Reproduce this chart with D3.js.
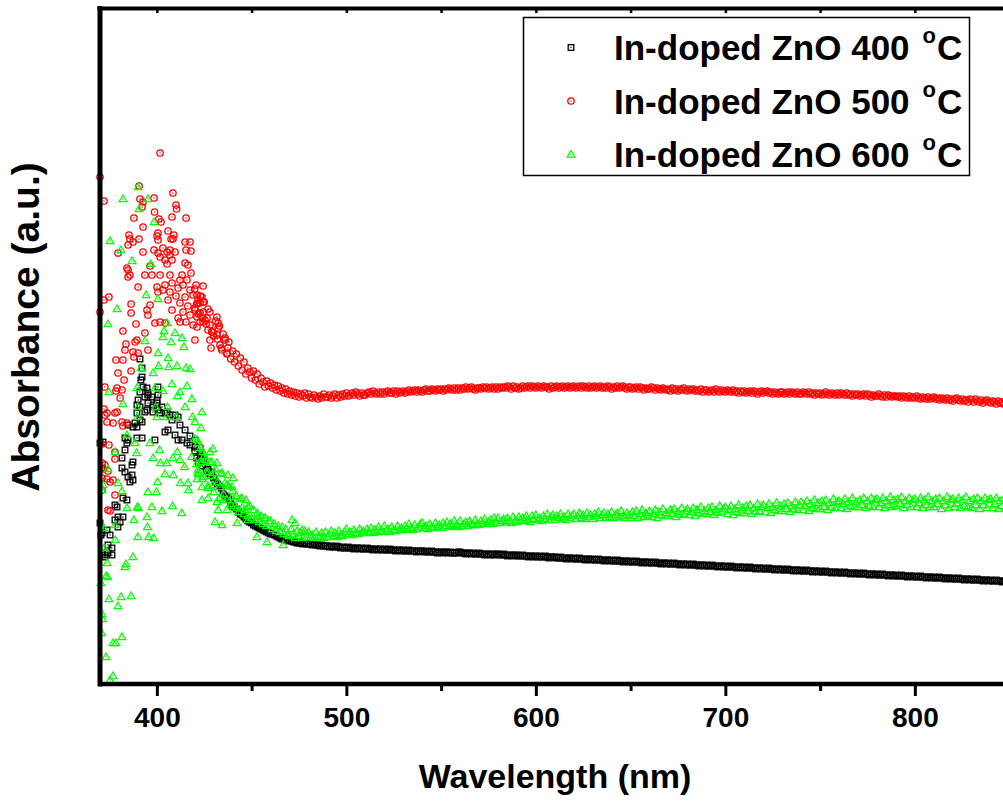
<!DOCTYPE html>
<html><head><meta charset="utf-8">
<script src="https://cdn.jsdelivr.net/npm/d3@7"></script>
<style>html,body{margin:0;padding:0;background:#fff;overflow:hidden}svg{display:block}</style>
</head><body><svg id="chart" width="1003" height="802"></svg>
<script>
// ---------------- DATA ----------------
// Smooth part of each spectrum, one reading per nm from 420 to 850 nm (rows of 10 nm)
const bandWavelengths = d3.range(420, 851, 1);

const band400 = [
2.33,2.26,2.22,2.28,2.18,2.24,2.14,2.15,2.10,2.12,
2.06,2.02,2.00,1.98,1.96,1.90,1.88,1.87,1.85,1.80,
1.78,1.77,1.75,1.72,1.70,1.69,1.67,1.65,1.63,1.62,
1.61,1.59,1.58,1.57,1.56,1.55,1.54,1.53,1.52,1.51,
1.50,1.50,1.49,1.48,1.47,1.46,1.45,1.45,1.44,1.44,
1.43,1.43,1.42,1.42,1.41,1.41,1.41,1.40,1.41,1.40,
1.40,1.40,1.39,1.40,1.39,1.39,1.38,1.39,1.38,1.38,
1.38,1.37,1.38,1.37,1.37,1.38,1.37,1.36,1.37,1.36,
1.36,1.37,1.36,1.36,1.35,1.36,1.36,1.35,1.36,1.35,
1.35,1.36,1.35,1.35,1.34,1.35,1.35,1.34,1.35,1.34,
1.35,1.34,1.34,1.35,1.34,1.34,1.33,1.34,1.34,1.33,
1.34,1.33,1.33,1.34,1.33,1.33,1.33,1.32,1.33,1.33,
1.33,1.32,1.33,1.32,1.32,1.33,1.32,1.32,1.31,1.32,
1.32,1.31,1.32,1.32,1.31,1.32,1.31,1.31,1.31,1.32,
1.32,1.31,1.31,1.30,1.31,1.31,1.30,1.31,1.30,1.30,
1.31,1.30,1.30,1.29,1.30,1.30,1.29,1.30,1.29,1.30,
1.30,1.29,1.29,1.30,1.29,1.28,1.29,1.29,1.28,1.29,
1.29,1.28,1.28,1.29,1.28,1.28,1.27,1.28,1.28,1.27,
1.28,1.27,1.28,1.27,1.27,1.28,1.27,1.26,1.27,1.27,
1.27,1.26,1.26,1.27,1.26,1.26,1.25,1.26,1.26,1.25,
1.26,1.25,1.25,1.26,1.25,1.25,1.24,1.25,1.25,1.24,
1.25,1.24,1.24,1.25,1.24,1.24,1.23,1.24,1.24,1.23,
1.24,1.23,1.23,1.24,1.23,1.23,1.22,1.23,1.23,1.22,
1.23,1.22,1.22,1.23,1.22,1.22,1.21,1.22,1.22,1.21,
1.22,1.21,1.21,1.22,1.21,1.21,1.20,1.21,1.21,1.20,
1.21,1.20,1.20,1.21,1.20,1.20,1.19,1.20,1.20,1.19,
1.20,1.19,1.19,1.20,1.19,1.19,1.18,1.19,1.19,1.18,
1.19,1.18,1.18,1.19,1.18,1.18,1.17,1.18,1.18,1.17,
1.18,1.17,1.17,1.18,1.17,1.17,1.16,1.17,1.17,1.16,
1.17,1.16,1.16,1.17,1.16,1.16,1.15,1.16,1.16,1.15,
1.16,1.15,1.15,1.16,1.15,1.15,1.14,1.15,1.15,1.14,
1.15,1.14,1.14,1.15,1.14,1.14,1.13,1.14,1.14,1.13,
1.14,1.13,1.13,1.14,1.13,1.13,1.12,1.13,1.13,1.12,
1.13,1.12,1.12,1.13,1.12,1.12,1.11,1.12,1.12,1.11,
1.12,1.11,1.11,1.12,1.11,1.11,1.10,1.11,1.11,1.10,
1.11,1.10,1.10,1.11,1.10,1.10,1.09,1.10,1.10,1.09,
1.10,1.09,1.09,1.10,1.09,1.09,1.08,1.09,1.09,1.08,
1.09,1.08,1.08,1.09,1.08,1.08,1.07,1.08,1.08,1.07,
1.08,1.07,1.07,1.08,1.07,1.07,1.06,1.07,1.07,1.06,
1.07,1.06,1.06,1.07,1.06,1.06,1.05,1.06,1.06,1.05,
1.06,1.05,1.05,1.06,1.05,1.05,1.04,1.05,1.05,1.04,
1.05,1.04,1.04,1.05,1.04,1.04,1.03,1.04,1.04,1.03,
1.04,1.03,1.03,1.04,1.03,1.03,1.02,1.03,1.03,1.02,
1.02
];

const band500 = [
3.95,3.80,3.70,3.88,3.66,3.82,3.60,3.75,3.72,3.52,
3.48,3.63,3.45,3.58,3.36,3.50,3.46,3.30,3.42,3.25,
3.33,3.22,3.30,3.18,3.26,3.14,3.22,3.10,3.16,3.12,
3.06,3.13,3.04,3.10,3.00,3.06,3.02,2.97,3.03,2.98,
3.01,2.96,2.99,2.94,2.98,2.93,2.96,2.91,2.95,2.90,
2.93,2.89,2.92,2.88,2.91,2.87,2.90,2.88,2.91,2.86,
2.90,2.87,2.86,2.89,2.87,2.85,2.88,2.86,2.90,2.87,
2.87,2.89,2.86,2.88,2.90,2.86,2.89,2.87,2.90,2.88,
2.91,2.88,2.89,2.91,2.89,2.92,2.90,2.88,2.91,2.89,
2.89,2.91,2.92,2.90,2.93,2.91,2.90,2.92,2.90,2.92,
2.90,2.92,2.93,2.91,2.91,2.93,2.90,2.93,2.91,2.92,
2.93,2.91,2.92,2.94,2.92,2.93,2.94,2.92,2.94,2.93,
2.92,2.94,2.95,2.93,2.93,2.95,2.94,2.93,2.95,2.94,
2.95,2.93,2.95,2.94,2.96,2.95,2.94,2.96,2.94,2.96,
2.94,2.96,2.95,2.97,2.95,2.96,2.97,2.95,2.94,2.96,
2.96,2.95,2.97,2.96,2.97,2.95,2.96,2.97,2.95,2.97,
2.95,2.97,2.96,2.97,2.96,2.98,2.97,2.95,2.98,2.96,
2.97,2.95,2.96,2.98,2.96,2.97,2.98,2.96,2.98,2.97,
2.96,2.98,2.97,2.96,2.98,2.97,2.97,2.95,2.98,2.96,
2.97,2.98,2.96,2.97,2.98,2.96,2.97,2.98,2.96,2.97,
2.98,2.96,2.97,2.98,2.96,2.98,2.97,2.96,2.98,2.96,
2.97,2.98,2.96,2.97,2.98,2.96,2.97,2.96,2.98,2.97,
2.95,2.97,2.96,2.98,2.96,2.97,2.98,2.96,2.95,2.97,
2.97,2.95,2.96,2.97,2.95,2.97,2.96,2.94,2.96,2.95,
2.95,2.97,2.96,2.94,2.96,2.95,2.94,2.96,2.95,2.94,
2.95,2.93,2.96,2.94,2.95,2.93,2.95,2.94,2.96,2.94,
2.93,2.95,2.94,2.95,2.93,2.94,2.93,2.95,2.92,2.94,
2.94,2.92,2.93,2.94,2.92,2.95,2.93,2.92,2.94,2.93,
2.92,2.94,2.93,2.92,2.94,2.92,2.93,2.91,2.93,2.92,
2.93,2.91,2.92,2.93,2.91,2.93,2.92,2.90,2.92,2.93,
2.91,2.92,2.93,2.91,2.92,2.90,2.92,2.91,2.90,2.92,
2.92,2.90,2.91,2.92,2.90,2.92,2.91,2.90,2.92,2.90,
2.90,2.92,2.91,2.90,2.92,2.90,2.91,2.89,2.91,2.90,
2.91,2.89,2.90,2.92,2.90,2.89,2.91,2.90,2.89,2.91,
2.89,2.91,2.90,2.89,2.91,2.89,2.90,2.88,2.90,2.89,
2.90,2.88,2.89,2.90,2.88,2.90,2.89,2.87,2.89,2.88,
2.88,2.90,2.88,2.87,2.89,2.87,2.89,2.88,2.87,2.88,
2.88,2.87,2.88,2.86,2.88,2.87,2.86,2.88,2.86,2.87,
2.86,2.88,2.86,2.85,2.87,2.86,2.85,2.87,2.85,2.86,
2.87,2.85,2.86,2.84,2.86,2.85,2.84,2.86,2.84,2.85,
2.83,2.85,2.86,2.84,2.83,2.85,2.83,2.84,2.82,2.85,
2.84,2.82,2.85,2.83,2.82,2.84,2.81,2.83,2.84,2.82,
2.81,2.83,2.82,2.80,2.83,2.81,2.82,2.80,2.83,2.81,
2.82
];

const band600 = [
2.45,2.20,2.10,2.36,2.05,2.28,2.12,1.98,2.22,2.08,
1.92,2.15,2.02,1.86,2.10,1.90,2.01,1.84,1.98,1.80,
1.93,1.78,1.88,1.72,1.85,1.76,1.70,1.84,1.68,1.78,
1.66,1.74,1.64,1.71,1.62,1.68,1.60,1.66,1.58,1.63,
1.63,1.55,1.60,1.53,1.58,1.52,1.57,1.50,1.55,1.49,
1.48,1.55,1.50,1.46,1.53,1.48,1.51,1.46,1.53,1.47,
1.52,1.47,1.49,1.46,1.52,1.48,1.47,1.51,1.46,1.52,
1.47,1.50,1.53,1.48,1.51,1.47,1.53,1.49,1.48,1.52,
1.55,1.50,1.52,1.49,1.54,1.51,1.50,1.55,1.51,1.53,
1.51,1.55,1.52,1.56,1.51,1.54,1.52,1.57,1.53,1.52,
1.58,1.53,1.55,1.52,1.57,1.54,1.53,1.58,1.54,1.56,
1.54,1.58,1.55,1.60,1.56,1.54,1.59,1.55,1.57,1.60,
1.61,1.56,1.58,1.55,1.60,1.57,1.56,1.61,1.57,1.59,
1.56,1.61,1.58,1.62,1.57,1.60,1.58,1.63,1.59,1.57,
1.63,1.58,1.60,1.62,1.58,1.63,1.60,1.59,1.64,1.60,
1.59,1.63,1.61,1.65,1.60,1.62,1.64,1.60,1.66,1.61,
1.66,1.61,1.63,1.65,1.62,1.66,1.63,1.61,1.67,1.63,
1.62,1.67,1.64,1.66,1.63,1.68,1.64,1.62,1.68,1.65,
1.69,1.64,1.66,1.63,1.68,1.65,1.70,1.64,1.67,1.69,
1.64,1.68,1.66,1.70,1.65,1.67,1.64,1.70,1.66,1.68,
1.70,1.65,1.68,1.71,1.66,1.69,1.65,1.71,1.67,1.69,
1.65,1.70,1.68,1.72,1.66,1.69,1.71,1.66,1.70,1.67,
1.72,1.66,1.69,1.71,1.67,1.73,1.68,1.66,1.71,1.69,
1.66,1.72,1.68,1.73,1.66,1.70,1.74,1.67,1.71,1.68,
1.73,1.67,1.70,1.74,1.66,1.72,1.69,1.75,1.68,1.71,
1.68,1.74,1.70,1.75,1.67,1.72,1.69,1.76,1.70,1.73,
1.75,1.69,1.72,1.76,1.68,1.74,1.71,1.77,1.70,1.73,
1.70,1.76,1.72,1.77,1.69,1.74,1.71,1.78,1.72,1.75,
1.77,1.70,1.74,1.78,1.69,1.75,1.72,1.79,1.71,1.76,
1.71,1.78,1.73,1.79,1.70,1.76,1.72,1.80,1.73,1.77,
1.79,1.72,1.76,1.80,1.71,1.77,1.74,1.81,1.73,1.78,
1.73,1.80,1.75,1.81,1.72,1.78,1.75,1.82,1.74,1.79,
1.82,1.74,1.78,1.83,1.73,1.80,1.76,1.84,1.75,1.81,
1.75,1.83,1.77,1.84,1.74,1.81,1.77,1.85,1.76,1.82,
1.83,1.76,1.80,1.85,1.75,1.82,1.78,1.86,1.77,1.82,
1.77,1.84,1.79,1.86,1.76,1.83,1.78,1.86,1.77,1.84,
1.85,1.77,1.81,1.86,1.76,1.83,1.79,1.87,1.77,1.84,
1.78,1.85,1.80,1.87,1.76,1.83,1.79,1.86,1.77,1.84,
1.85,1.77,1.81,1.86,1.76,1.84,1.79,1.87,1.77,1.83,
1.77,1.85,1.80,1.86,1.75,1.83,1.79,1.87,1.76,1.84,
1.85,1.77,1.81,1.86,1.76,1.84,1.78,1.87,1.77,1.83,
1.76,1.85,1.79,1.86,1.75,1.83,1.79,1.86,1.76,1.84,
1.85,1.76,1.80,1.86,1.75,1.83,1.78,1.85,1.76,1.82,
1.79
];

// Noisy short-wavelength points (wavelength nm, absorbance a.u.)
const scatterWl400 = [
371.6,371.1,381.6,383.2,384.8,386.9,387.4,385.8,377.9,379.0,
382.1,380.6,379.5,373.7,375.3,374.2,376.3,372.6,371.1,387.4,
386.9,383.2,381.6,389.5,392.2,389.5,391.1,389.5,394.8,398.0,
400.1,400.6,395.3,391.1,384.8,387.4,388.5,392.2,383.2,384.8,
384.2,384.2,377.9,382.1,379.5,370.0,371.1,370.5,376.3,374.2,
372.6,404.3,405.9,409.6,411.2,413.3,415.9,417.5,420.1,422.8,
423.8,399.0,370.0,391.1,392.2,392.2,391.6,392.7,394.8,395.3,
393.7,397.4,395.3,398.0,400.6,400.1,400.6,402.7,405.4,390.1,
389.5,391.1,393.7,398.0,401.7,404.3,406.9,409.6,411.2,408.0,
412.2,414.9,417.5,420.1,422.8
];
const scatterAbs400 = [
2.42,2.16,2.16,2.12,2.07,2.09,2.04,2.02,1.79,1.77,
1.86,1.62,1.57,1.54,1.49,1.39,1.29,1.29,1.31,2.22,
2.19,2.34,2.26,2.46,2.46,2.71,2.64,2.57,2.74,2.77,
2.84,2.97,2.91,2.92,2.59,2.57,2.61,2.62,2.46,2.44,
2.41,1.84,1.64,1.67,1.67,1.61,1.51,1.49,1.36,1.31,
1.27,2.52,2.54,2.49,2.44,2.44,2.41,2.39,2.37,2.31,
2.24,2.44,2.41,3.25,3.16,3.07,3.04,2.97,2.96,2.89,
2.87,2.87,2.81,2.79,2.89,2.81,2.74,2.77,2.72,2.84,
2.79,2.77,2.72,2.72,2.71,2.71,2.69,2.69,2.67,2.64,
2.59,2.54,2.48,2.44,2.36
];

const scatterWl500 = [
401.7,370.0,372.1,390.6,408.5,410.1,410.4,391.1,392.7,392.2,398.5,398.8,401.1,402.2,408.0,415.4,387.9,392.7,400.6,405.9,
409.0,400.1,385.3,390.6,385.8,384.8,387.4,379.5,392.7,400.6,407.5,408.5,414.9,417.5,398.5,400.6,403.2,405.4,406.9,409.6,
415.4,418.0,401.7,404.3,406.9,408.0,405.4,414.9,416.4,384.2,384.8,385.8,384.8,393.7,397.4,401.7,406.9,413.3,418.0,396.4,
374.7,372.1,370.0,386.4,386.4,396.4,394.8,395.3,389.0,382.1,393.7,389.5,388.5,383.7,383.2,395.3,387.4,390.1,387.9,378.4,
382.1,379.5,386.4,382.7,372.6,379.0,381.6,378.4,380.6,372.1,373.7,372.6,399.0,401.7,404.3,412.2,420.1,
373.7,381.6,384.2,382.1,371.1,374.7,377.9,371.1,372.6,371.6,374.2,371.1,373.7,375.3,374.2,375.3,371.1,377.9,376.9,377.9,
379.0,377.9,376.9,
404.3,408.0,411.2,413.8,417.5,406.9,410.1,414.9,419.1,421.7,405.9,412.2,416.4,420.1,422.8,408.0,413.8,417.5,421.2,424.4,
411.2,415.4,419.1,422.8,425.4,403.2,400.6,415.9,412.2,420.7,390.1,400.1,
424.4,421.2,423.8,424.4,421.7,420.1,422.8,424.4,421.2,426.5,428.0,427.0,429.6,428.0,431.7,432.3,432.3,431.7,428.6,433.3,
434.4,436.0,437.5,437.0
];
const scatterAbs500 = [
5.31,5.07,4.83,4.98,4.91,4.79,4.75,4.85,4.82,4.77,4.86,4.72,4.65,4.62,4.67,4.66,4.66,4.57,4.51,4.53,
4.49,4.48,4.49,4.45,4.45,4.39,4.42,4.31,4.32,4.44,4.45,4.45,4.42,4.42,4.34,4.31,4.36,4.32,4.34,4.32,
4.34,4.33,4.27,4.24,4.29,4.24,4.20,4.21,4.19,4.16,4.14,4.09,4.07,4.09,4.09,4.09,4.09,4.09,4.11,4.18,
3.87,3.84,3.72,3.80,3.71,3.79,3.74,3.69,3.60,3.53,3.51,3.44,3.42,3.40,3.34,3.34,3.32,3.31,3.27,3.24,
3.24,3.11,3.13,3.04,2.97,2.96,2.94,2.93,2.86,2.75,2.71,2.69,3.61,3.62,3.61,3.62,3.44,
2.62,2.62,2.61,2.58,2.40,2.39,2.25,2.21,2.19,2.15,2.13,2.06,2.05,2.02,1.74,1.73,1.94,2.32,2.04,1.89,
2.72,2.71,2.61,
3.99,4.01,3.96,3.99,3.94,3.92,3.88,3.87,3.89,3.84,3.84,3.81,3.78,3.76,3.81,3.74,3.72,3.69,3.67,3.72,
3.66,3.62,3.59,3.62,3.64,3.94,3.92,4.04,4.04,3.99,3.97,3.97,
3.98,3.89,3.87,3.82,3.81,3.74,3.71,3.62,3.57,3.66,3.59,3.54,3.52,3.44,3.67,3.61,3.56,3.49,3.36,3.39,
3.34,3.44,3.36,3.31
];

const scatterWl600 = [
390.1,382.1,395.3,390.6,398.5,375.3,381.1,386.9,396.9,394.3,
400.6,379.0,374.2,405.4,403.8,409.6,393.7,403.2,413.3,407.5,
414.3,400.6,405.9,410.6,406.2,400.9,391.6,415.4,417.5,398.0,
408.0,415.9,399.0,389.5,403.2,412.2,410.9,418.5,374.7,382.1,
390.1,399.3,405.6,414.9,389.8,400.1,405.1,410.4,418.8,384.2,
377.9,388.5,389.3,396.4,401.4,410.8,374.2,398.0,401.9,405.2,
408.5,412.2,414.6,418.3,423.8,421.7,404.3,408.7,412.4,416.4,
421.2,400.4,416.7,379.5,371.6,371.1,395.3,399.8,381.6,389.7,
390.3,384.2,397.4,408.3,402.7,413.1,387.9,394.8,377.9,372.1,
395.0,389.9,395.6,398.3,378.1,372.3,387.4,373.7,383.7,383.2,
373.2,374.0,370.5,374.7,381.1,386.4,379.5,371.1,371.3,370.9,
381.6,376.9,378.4,373.2,376.9,375.3,
423.8,420.1,423.3,421.2,421.9,424.4,428.0,429.6,422.8,425.4,
429.1,431.7,421.7,424.4,427.0,430.7,434.4,437.5,440.2,423.8,
427.0,429.6,433.3,437.0,439.7,423.8,427.0,431.7,434.9,439.7,
444.9,432.3,437.0,442.3,446.5,448.1,430.7,434.4,442.3,448.1,
453.4,457.1,452.8,458.1,466.6,471.3,472.9,476.6
];
const scatterAbs600 = [
4.97,4.85,4.85,4.75,4.62,4.43,4.34,4.23,4.20,3.89,
3.85,3.75,3.60,3.61,3.53,3.51,3.43,3.47,3.46,3.42,
3.37,3.31,3.26,3.18,3.17,3.18,3.16,3.16,3.15,3.11,
3.00,2.98,2.96,2.96,2.93,2.92,2.88,2.85,2.92,2.80,
2.77,2.77,2.77,2.77,2.67,2.67,2.67,2.67,2.67,2.49,
2.32,2.41,2.31,2.41,2.34,2.32,2.15,2.26,2.21,2.21,
2.26,2.24,2.17,2.27,2.22,2.14,2.10,2.09,2.01,2.01,
2.05,2.02,1.94,2.01,1.99,1.94,1.92,1.92,1.93,1.77,
1.76,1.76,1.77,1.78,1.73,1.71,1.64,1.67,1.59,1.56,
1.57,1.47,1.47,1.46,1.44,1.36,1.27,1.21,1.20,1.17,
1.08,1.07,1.01,0.85,0.87,0.88,0.78,0.70,0.65,0.51,
0.47,0.41,0.41,0.27,0.08,0.04,
2.72,2.62,2.56,2.44,2.41,2.32,2.32,2.35,2.22,2.24,
2.22,2.21,2.11,2.07,2.12,2.11,2.11,2.09,2.06,1.97,
1.96,1.99,1.97,1.99,1.97,1.84,1.86,1.82,1.84,1.87,
1.86,1.74,1.74,1.76,1.74,1.77,1.62,1.59,1.61,1.64,
1.67,1.66,1.47,1.42,1.39,1.64,1.61,1.54
];

const seriesLabels = ["In-doped ZnO 400", "In-doped ZnO 500", "In-doped ZnO 600"];
const seriesColors = ["#000000", "#ff0000", "#00ff00"];
const seriesSymbols = ["square", "circle", "triangle"];
const majorTicks = [400, 500, 600, 700, 800];
const minorTicks = [450, 550, 650, 750, 850];
const xTitle = "Wavelength (nm)";
const yTitle = "Absorbance (a.u.)";

// ---------------- CHART ----------------
const svg = d3.select("#chart");
const FONT = "'Liberation Sans', Arial, Helvetica, sans-serif";
const x = d3.scaleLinear().domain([370, 850]).range([100, 1009.6]);
const y = d3.scaleLinear().domain([0, 6.74]).range([684, 10]);

function pts(wl, vals) {
  const n = Math.min(wl.length, vals.length);
  const out = [];
  for (let i = 0; i < n; i++) out.push([wl[i], vals[i]]);
  return out;
}
const seriesData = [
  pts(scatterWl400, scatterAbs400).concat(pts(bandWavelengths, band400)),
  pts(scatterWl500, scatterAbs500).concat(pts(bandWavelengths, band500)),
  pts(scatterWl600, scatterAbs600).concat(pts(bandWavelengths, band600))
];

function drawMarker(g, type, color) {
  if (type === "square") {
    g.append("rect").attr("x", -2.8).attr("y", -2.8).attr("width", 5.6).attr("height", 5.6)
      .attr("fill", "none").attr("stroke", color).attr("stroke-width", 1.3);
  } else if (type === "circle") {
    g.append("circle").attr("r", 3.2).attr("fill", "none").attr("stroke", color).attr("stroke-width", 1.3);
  } else {
    g.append("path").attr("d", "M0,-4L3.8,2.5L-3.8,2.5Z").attr("fill", "none")
      .attr("stroke", color).attr("stroke-width", 1.25);
  }
  g.append("circle").attr("r", 0.7).attr("fill", color);
}

const plot = svg.append("g");
seriesData.forEach((data, si) => {
  const gs = plot.append("g");
  gs.selectAll("g").data(data).join("g")
    .attr("transform", d => `translate(${x(d[0])},${y(d[1])})`)
    .each(function () { drawMarker(d3.select(this), seriesSymbols[si], seriesColors[si]); });
});

// axes
const bottomAxis = svg.append("g").attr("transform", "translate(0,684)")
  .call(d3.axisBottom(x).tickValues(majorTicks).tickSize(12).tickPadding(11).tickFormat(d3.format("d")));
bottomAxis.select(".domain").remove();
bottomAxis.selectAll(".tick line").attr("stroke", "#000").attr("stroke-width", 3);
bottomAxis.selectAll(".tick text").attr("font-family", FONT).attr("font-weight", "bold")
  .attr("font-size", 28).attr("fill", "#000");

const minorAxis = svg.append("g").attr("transform", "translate(0,684)")
  .call(d3.axisBottom(x).tickValues(minorTicks).tickSize(7).tickFormat(""));
minorAxis.select(".domain").remove();
minorAxis.selectAll(".tick line").attr("stroke", "#000").attr("stroke-width", 3);

const topAxis = svg.append("g").attr("transform", "translate(0,10)")
  .call(d3.axisBottom(x).tickValues(majorTicks.concat(minorTicks)).tickSize(3).tickFormat(""));
topAxis.select(".domain").remove();
topAxis.selectAll(".tick line").attr("stroke", "#000").attr("stroke-width", 2.5);

// frame lines
svg.append("line").attr("x1", x.range()[0]).attr("x2", 1003).attr("y1", y.range()[0]).attr("y2", y.range()[0])
  .attr("stroke", "#000").attr("stroke-width", 4.5);
svg.append("line").attr("x1", x.range()[0]).attr("x2", x.range()[0]).attr("y1", 6).attr("y2", 686.5)
  .attr("stroke", "#000").attr("stroke-width", 5);
svg.append("line").attr("x1", 97.5).attr("x2", 1003).attr("y1", 8.5).attr("y2", 8.5)
  .attr("stroke", "#000").attr("stroke-width", 4);

// titles
svg.append("text").attr("x", 555).attr("y", 788).attr("text-anchor", "middle")
  .attr("font-family", FONT).attr("font-weight", "bold").attr("font-size", 34).text(xTitle);
svg.append("text").attr("transform", "translate(39,327) rotate(-90)").attr("text-anchor", "middle")
  .attr("font-family", FONT).attr("font-weight", "bold").attr("font-size", 39).text(yTitle);

// legend
const lg = svg.append("g");
lg.append("rect").attr("x", 523.5).attr("y", 17.5).attr("width", 446).attr("height", 158)
  .attr("fill", "#fff").attr("stroke", "#000").attr("stroke-width", 1.5);
seriesLabels.forEach((lab, i) => {
  const cy = 47.5 + i * 53.5;
  const m = lg.append("g").attr("transform", `translate(571,${cy})`);
  drawMarker(m, seriesSymbols[i], seriesColors[i]);
  const t = lg.append("text").attr("x", 614).attr("y", cy + 12.5)
    .attr("font-family", FONT).attr("font-weight", "bold").attr("font-size", 35).attr("fill", "#000");
  t.append("tspan").text(lab);
  t.append("tspan").attr("dx", 13).attr("dy", -17).attr("font-size", 22).text("o");
  t.append("tspan").attr("dx", 1).attr("dy", 17).text("C");
});
</script>
</body></html>
